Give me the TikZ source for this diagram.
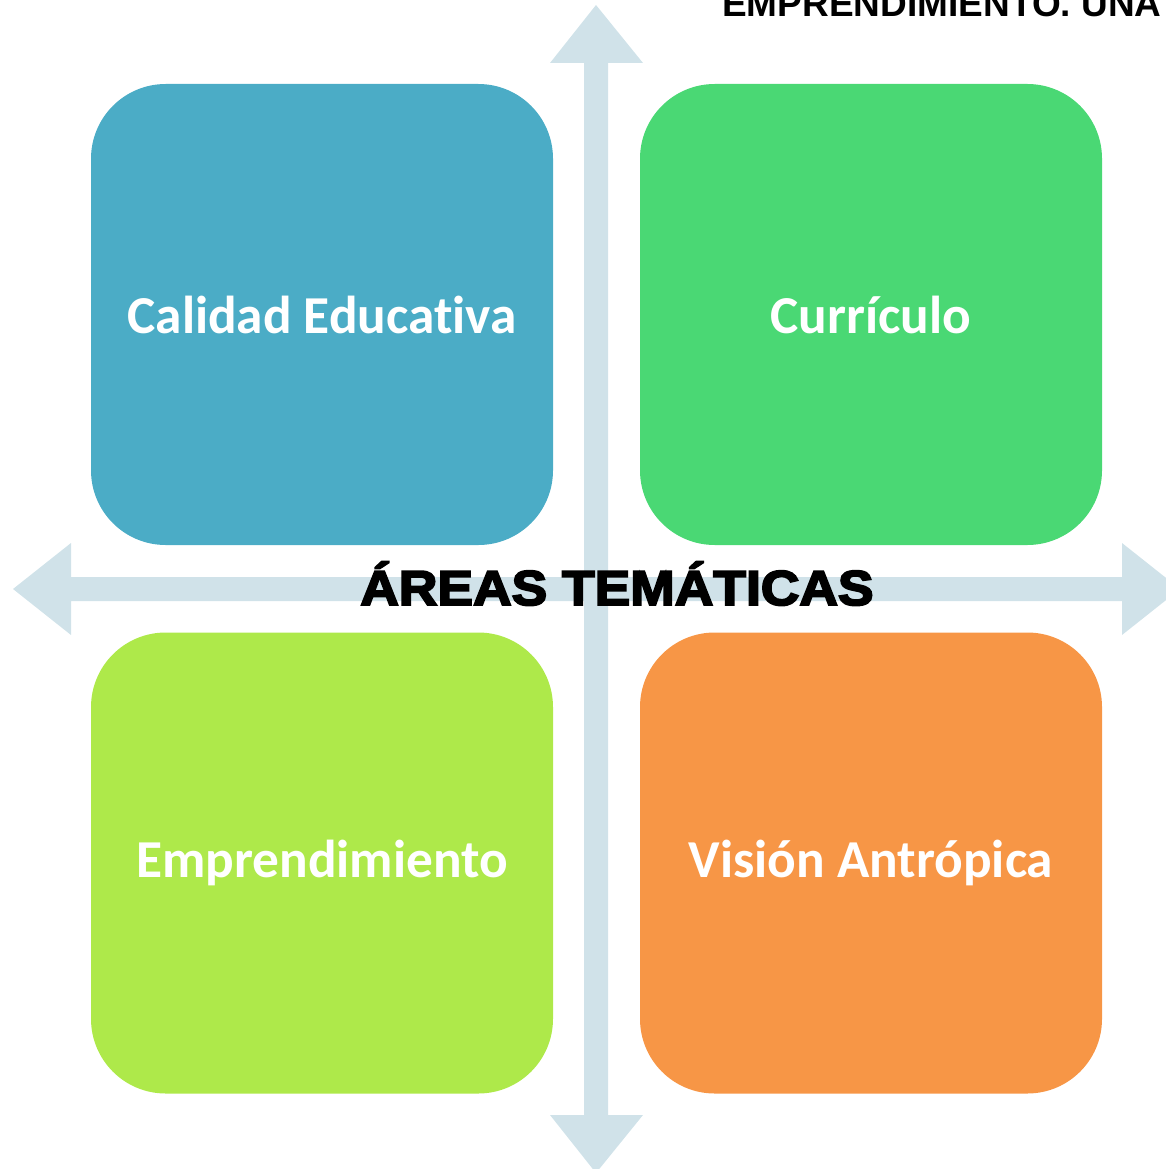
\documentclass[tikz,border=0pt]{standalone}
\usepackage{fontspec}
\setmainfont[Ligatures=NoCommon]{Carlito}
\newfontfamily\headfont[UprightFont={* Bold}, FakeBold=4, FakeStretch=1.09]{Liberation Sans}
\newfontfamily\topfont{Liberation Sans}
\definecolor{boxblue}{RGB}{75,172,198}
\definecolor{boxgreen}{RGB}{74,216,116}
\definecolor{boxlime}{RGB}{174,233,74}
\definecolor{boxorange}{RGB}{247,150,70}
\definecolor{axiscol}{RGB}{208,226,233}
\begin{document}
\begin{tikzpicture}[
        x=0.75pt, y=-0.75pt,
        area/.style={draw=none, rounded corners=56pt, minimum width=346.5pt, minimum height=345.75pt,
            inner sep=0pt, text=white, font=\fontsize{40}{44}\selectfont\bfseries},
        axis/.style={fill=axiscol, draw=none},
    ]
    \useasboundingbox (0,0) rectangle (1165,1169);
    % axes
    \fill[axis] (13,589) -- (71,543) -- (71,577) -- (584,577) -- (584,63) -- (550,63) -- (596,5)
        -- (643,63) -- (608,63) -- (608,577) -- (1122,577) -- (1122,543) -- (1180,589)
        -- (1122,635) -- (1122,601) -- (608,601) -- (608,1115) -- (643,1115) -- (596,1173)
        -- (550,1115) -- (584,1115) -- (584,601) -- (71,601) -- (71,635) -- cycle;
    \node[area, fill=boxblue](calidad) at (322,314.5){Calidad Educativa};
    \node[area, fill=boxgreen](curriculo) at (871,314.5){Currículo};
    \node[area, fill=boxlime](empren) at (322,863){Emprendimiento};
    \node[area, fill=boxorange](vision) at (871,863){Visión Antrópica};
    \node[anchor=base, inner sep=0pt, font=\headfont\fontsize{36.75}{40}\selectfont](areas) at (617,605){ÁREAS TEMÁTICAS};
    \node[anchor=base west, inner sep=0pt, font=\topfont\bfseries\fontsize{27.75}{30}\selectfont](top) at (722,17){EMPRENDIMIENTO. UNA};
\end{tikzpicture}
\end{document}
